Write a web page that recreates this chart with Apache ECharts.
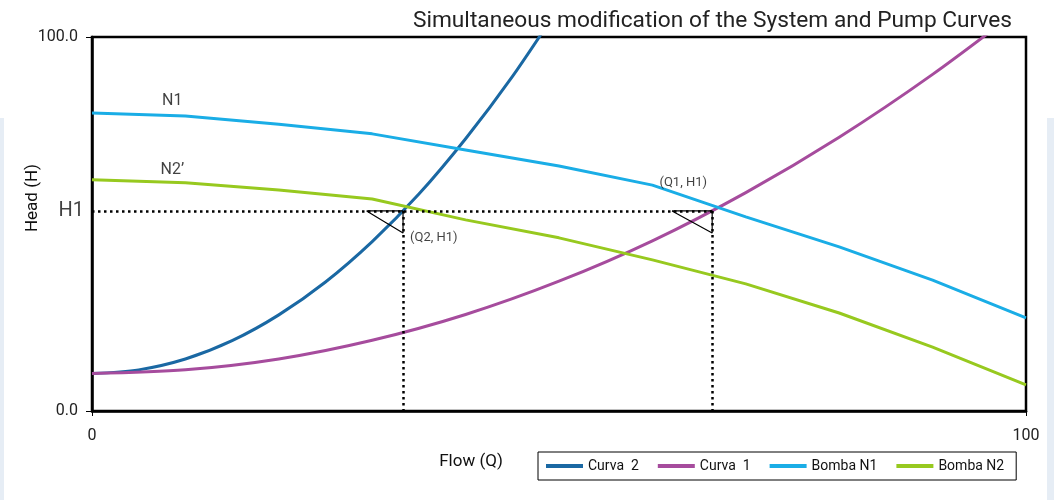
<!DOCTYPE html>
<html>
<head>
<meta charset="utf-8">
<script src="https://cdn.jsdelivr.net/npm/echarts@6/dist/echarts.min.js"></script>
<style>
  html, body { margin: 0; padding: 0; background: #fff; }
  #chart { width: 1054px; height: 500px; }
</style>
</head>
<body>
<div id="chart"></div>
<script>
// flow values (Q) and heads (H)
const curva2 = [[0,10],[5,11],[10,13.9],[15,18.8],[20,25.7],[25,34.5],[30,45.3],[35,58],[40,72.8],[45,89.4],[50,108]]
const curva1 = [[0,10],[10,11],[20,13.9],[30,18.9],[40,25.8],[50,34.7],[60,45.5],[70,58.4],[80,73.2],[90,90],[100,108.7]]
const bombaN1 = [[0,79.7],[10,78.9],[20,76.7],[30,74.1],[40,69.8],[50,65.5],[60,60.4],[70,51.9],[80,43.9],[90,35.0],[100,24.9]]
const bombaN2 = [[0,61.8],[10,61.0],[20,59.1],[30,56.7],[40,51.1],[50,46.3],[60,40.4],[70,34.0],[80,26.2],[90,17.1],[100,7.0]]

const H1 = 53.5
const Q1 = 66.4
const Q2 = 33.3
const triQ2 = [[29.4,H1],[Q2,H1],[Q2,47.6],[29.4,H1]]
const triQ1 = [[62.1,H1],[Q1,H1],[Q1,47.6],[62.1,H1]]

const notes = [
  { text: 'N1', at: [8.6, 82.9], size: 16 },
  { text: 'N2\u2019', at: [8.6, 64.4], size: 16 },
  { text: '(Q1, H1)', at: [63.3, 61.0], size: 13 },
  { text: '(Q2, H1)', at: [36.6, 46.3], size: 13 }
]

const chart = echarts.init(document.getElementById('chart'))
const font = 'Roboto'
const lineSeries = (name, data, color, smooth) => ({
  name: name,
  type: 'line',
  data: data,
  showSymbol: false,
  symbol: 'none',
  smooth: smooth,
  lineStyle: { color: color, width: 3 },
  itemStyle: { color: color },
  clip: true
})
const triSeries = (data) => ({
  type: 'line',
  data: data,
  symbol: 'none',
  lineStyle: { color: '#000', width: 1.2 },
  silent: true,
  z: 5
})

chart.setOption({
  animation: false,
  textStyle: { fontFamily: font },
  title: {
    text: 'Simultaneous modification of the System and Pump Curves',
    right: 37,
    top: 5,
    textStyle: { fontFamily: font, fontSize: 22.7, fontWeight: 'normal', color: '#222' }
  },
  graphic: [
    { type: 'rect', shape: { x: 0, y: 118, width: 4, height: 382 }, style: { fill: '#e6edf5' }, silent: true },
    { type: 'rect', shape: { x: 1047, y: 118, width: 7, height: 382 }, style: { fill: '#e6edf5' }, silent: true },
    { type: 'text', x: 33, y: 198, rotation: Math.PI / 2, silent: true,
      style: { text: 'Head (H)', fontFamily: font, fontSize: 17, fill: '#111', align: 'center', verticalAlign: 'middle' } },
    { type: 'text', x: 471, y: 462, silent: true,
      style: { text: 'Flow (Q)', fontFamily: font, fontSize: 17, fill: '#111', align: 'center', verticalAlign: 'middle' } }
  ],
  legend: {
    data: ['Curva  2', 'Curva  1', 'Bomba N1', 'Bomba N2'],
    left: 538,
    top: 452,
    padding: [7, 12, 7, 8],
    borderColor: '#000',
    borderWidth: 1,
    borderRadius: 0,
    icon: 'rect',
    itemWidth: 37,
    itemHeight: 4,
    itemGap: 19,
    textStyle: { fontFamily: font, fontSize: 14, color: '#111' }
  },
  grid: {
    left: 92, right: 28, top: 37, bottom: 89,
    show: true, borderColor: '#000', borderWidth: 2.5, backgroundColor: 'transparent'
  },
  xAxis: {
    type: 'value',
    min: 0, max: 100, interval: 100,
    axisLine: { show: true, lineStyle: { color: '#000', width: 2.5 } },
    axisTick: { show: true, length: 5, lineStyle: { color: '#000' } },
    axisLabel: { margin: 17, fontSize: 16, color: '#222', fontFamily: font },
    splitLine: { show: false }
  },
  yAxis: {
    type: 'value',
    min: 0, max: 100, interval: 100,
    axisLine: { show: true, lineStyle: { color: '#000', width: 2.5 } },
    axisTick: { show: true, length: 6, lineStyle: { color: '#000' } },
    axisLabel: { margin: 14, fontSize: 16, color: '#222', fontFamily: font, formatter: v => v.toFixed(1) },
    splitLine: { show: false }
  },
  series: [
    lineSeries('Curva  2', curva2, '#1a68a3', 0.3),
    lineSeries('Curva  1', curva1, '#a64c9d', 0.3),
    lineSeries('Bomba N1', bombaN1, '#1aade6', false),
    Object.assign(lineSeries('Bomba N2', bombaN2, '#97c91f', false), {
      markLine: {
        silent: true,
        symbol: 'none',
        label: { show: false },
        lineStyle: { color: '#000', width: 2.5, type: [2.5, 3.5] },
        data: [
          [{ coord: [0, H1] }, { coord: [Q1, H1] }],
          [{ coord: [Q2, H1] }, { coord: [Q2, 0] }],
          [{ coord: [Q1, H1] }, { coord: [Q1, 0] }]
        ]
      }
    }),
    triSeries(triQ2),
    triSeries(triQ1),
    {
      type: 'scatter',
      symbolSize: 0,
      silent: true,
      data: notes.map(n => ({ value: n.at, label: { show: true, formatter: n.text, position: 'inside', fontSize: n.size, color: '#111', fontFamily: font } })),
      z: 6
    },
    {
      type: 'scatter',
      symbolSize: 0,
      silent: true,
      data: [{ value: [0, H1], label: { show: true, formatter: 'H1', position: 'left', distance: 8, fontSize: 20, color: '#111', fontFamily: font } }],
      z: 6
    }
  ]
})
</script>
</body>
</html>
